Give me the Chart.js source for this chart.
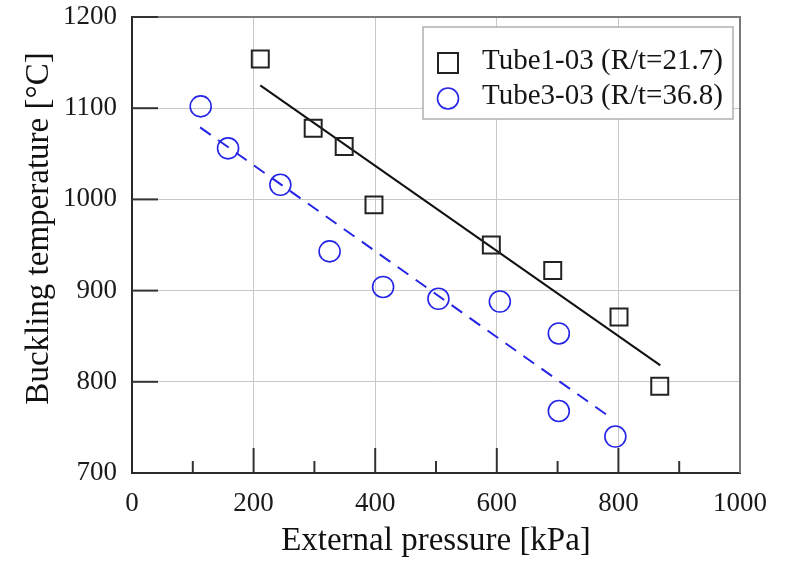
<!DOCTYPE html>
<html><head><meta charset="utf-8">
<script src="https://cdn.jsdelivr.net/npm/chart.js@4/dist/chart.umd.min.js"></script>
<style>html,body{margin:0;padding:0;background:#fff;}canvas{display:block;}</style>
</head><body>
<canvas id="c" width="787" height="561"></canvas>
<script>
// ---- data ----
const seriesNames = ['Tube1-03 (R/t=21.7)', 'Tube3-03 (R/t=36.8)'];
const tube1Pressure = [211, 298, 349, 398, 591, 692, 801, 868];
const tube1Temp     = [1154, 1078, 1058, 994, 950, 922, 871, 795];
const tube3Pressure = [113, 158, 244, 325, 413, 504, 605, 702, 702, 795];
const tube3Temp     = [1102, 1056, 1016, 943, 904, 891, 888, 853, 768, 740];
const fit1Pressure = [211, 869];
const fit1Temp     = [1125, 818];
const fit3Pressure = [112, 791];
const fit3Temp     = [1079, 759];
const xTickValues = [0, 200, 400, 600, 800, 1000];
const yTickValues = [700, 800, 900, 1000, 1100, 1200];
const xTitle = 'External pressure [kPa]';
const yTitle = 'Buckling temperature [\u00B0C]';

const pts = (xs, ys) => xs.map((x, i) => ({x, y: ys[i]}));
const SERIF = '"Liberation Serif", "Times New Roman", serif';
const BLUE = '#2424e6';

const framePlugin = {
  id: 'frame',
  afterDatasetsDraw(chart) {
    const {ctx, chartArea: a, scales: {x, y}} = chart;
    ctx.save();
    // top & right border
    ctx.strokeStyle = '#7a7a7a'; ctx.lineWidth = 2;
    ctx.beginPath(); ctx.moveTo(a.left, a.top); ctx.lineTo(a.right, a.top); ctx.lineTo(a.right, a.bottom); ctx.stroke();
    // inward tick marks
    ctx.strokeStyle = '#333'; ctx.lineWidth = 2;
    for (let v = 100; v < 1000; v += 100) {
      const px = x.getPixelForValue(v);
      const len = xTickValues.includes(v) ? 25 : 12;
      ctx.beginPath(); ctx.moveTo(px, a.bottom); ctx.lineTo(px, a.bottom - len); ctx.stroke();
    }
    yTickValues.forEach(v => {
      if (v === 700) return;
      const py = y.getPixelForValue(v);
      ctx.beginPath(); ctx.moveTo(a.left, py); ctx.lineTo(a.left + 26, py); ctx.stroke();
    });
    // legend box
    const bx = a.left + 291, by = a.top + 10, bw = 310, bh = 92;
    ctx.fillStyle = '#fff'; ctx.fillRect(bx, by, bw, bh);
    ctx.strokeStyle = '#b0b0b0'; ctx.lineWidth = 1.5; ctx.strokeRect(bx, by, bw, bh);
    const mx = bx + 25, rows = [by + 36, by + 71.5];
    ctx.lineWidth = 2; ctx.strokeStyle = '#222';
    ctx.strokeRect(mx - 10, rows[0] - 10, 20, 20);
    ctx.lineWidth = 1.6; ctx.strokeStyle = BLUE;
    ctx.beginPath(); ctx.arc(mx, rows[1], 10.5, 0, Math.PI * 2); ctx.stroke();
    ctx.fillStyle = '#151515'; ctx.font = '29px ' + SERIF; ctx.textBaseline = 'middle'; ctx.textAlign = 'left';
    ctx.fillText(seriesNames[0], bx + 59, rows[0] - 2);
    ctx.fillText(seriesNames[1], bx + 59, rows[1] - 2);
    ctx.restore();
  }
};

new Chart(document.getElementById('c'), {
  type: 'scatter',
  data: {
    datasets: [
      {label: seriesNames[0], data: pts(tube1Pressure, tube1Temp), pointStyle: 'rect', pointRadius: 12, pointHoverRadius: 12,
       borderColor: '#222', backgroundColor: 'rgba(0,0,0,0)', borderWidth: 2, showLine: false, order: 1},
      {label: seriesNames[1], data: pts(tube3Pressure, tube3Temp), pointStyle: 'circle', pointRadius: 10.5, pointHoverRadius: 10.5,
       borderColor: BLUE, backgroundColor: 'rgba(0,0,0,0)', borderWidth: 1.6, showLine: false, order: 1},
      {label: 'fit1', data: pts(fit1Pressure, fit1Temp), showLine: true, pointRadius: 0, borderColor: '#111', borderWidth: 2, order: 2},
      {label: 'fit3', data: pts(fit3Pressure, fit3Temp), showLine: true, pointRadius: 0, borderColor: BLUE, borderWidth: 2, borderDash: [13, 9], order: 2}
    ]
  },
  options: {
    responsive: false, animation: false,
    layout: {padding: {top: 17, right: 47, left: 0, bottom: 0}},
    plugins: {legend: {display: false}, tooltip: {enabled: false}},
    scales: {
      x: {
        type: 'linear', min: 0, max: 1000,
        afterBuildTicks: s => { s.ticks = xTickValues.map(v => ({value: v})); },
        afterFit: s => { s.height = 88; s.paddingLeft = 0; s.paddingRight = 0; },
        ticks: {font: {family: SERIF, size: 27}, color: '#1a1a1a', padding: 15, maxRotation: 0, autoSkip: false,
                callback: v => String(v)},
        grid: {color: '#c8c8c8', lineWidth: 1, drawTicks: false},
        border: {display: true, color: '#2a2a2a', width: 2},
        title: {display: true, text: xTitle, font: {family: SERIF, size: 33}, color: '#111', padding: {top: 0, bottom: 0}}
      },
      y: {
        type: 'linear', min: 700, max: 1200,
        afterBuildTicks: s => { s.ticks = yTickValues.map(v => ({value: v})); },
        afterFit: s => { s.width = 132; s.paddingTop = 0; s.paddingBottom = 0; },
        ticks: {font: {family: SERIF, size: 27}, color: '#1a1a1a', padding: 15, callback: v => String(v)},
        grid: {color: '#c8c8c8', lineWidth: 1, drawTicks: false},
        border: {display: true, color: '#2a2a2a', width: 2},
        title: {display: true, text: '    ' + yTitle, font: {family: SERIF, size: 33}, color: '#111', padding: {top: 20, bottom: 0}}
      }
    }
  },
  plugins: [framePlugin]
});
</script>
</body></html>
